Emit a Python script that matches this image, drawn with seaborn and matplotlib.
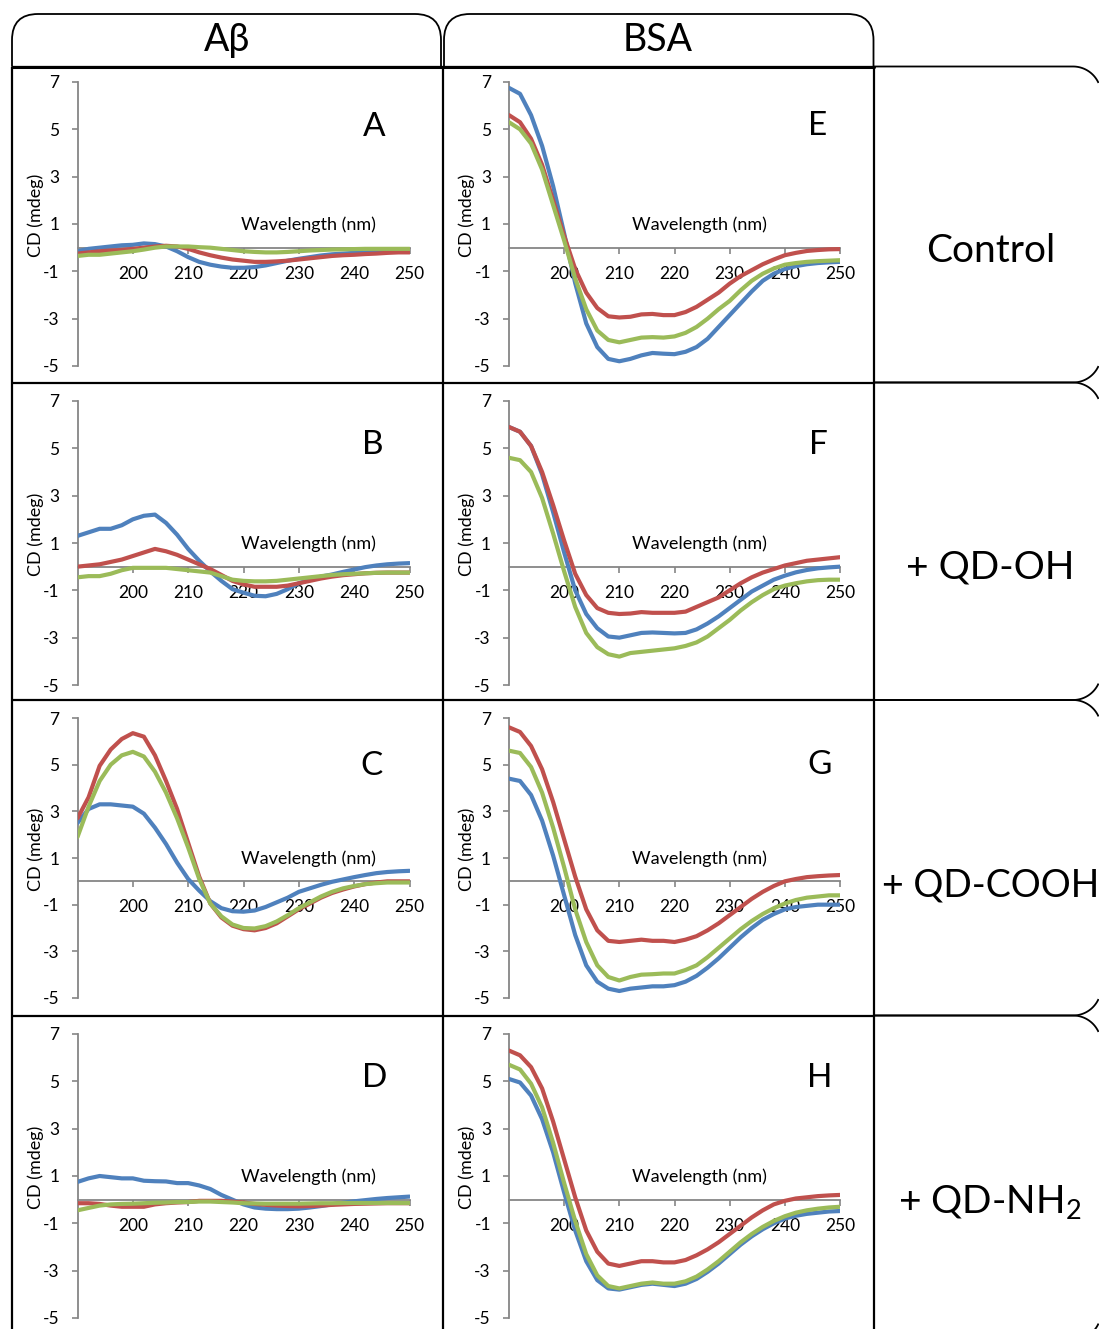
import numpy as np
import pandas as pd
import matplotlib
matplotlib.use("Agg")
import matplotlib.pyplot as plt
from matplotlib.path import Path
from matplotlib.patches import PathPatch
import seaborn as sns

# ---------------------------------------------------------------- data
wavelength = np.arange(190, 251, 2)  # nm

# A-beta: control, +QD-OH, +QD-COOH, +QD-NH2 (three traces each)
abeta_ctrl_1 = [-0.15, -0.05, 0.0, 0.05, 0.1, 0.12, 0.18, 0.15, 0.05, -0.15,
                -0.4, -0.6, -0.72, -0.8, -0.85, -0.85, -0.82, -0.75, -0.65, -0.55,
                -0.47, -0.4, -0.33, -0.28, -0.25, -0.22, -0.2, -0.18, -0.17, -0.16, -0.15]
abeta_ctrl_2 = [-0.25, -0.2, -0.15, -0.12, -0.1, -0.05, 0.0, 0.05, 0.08, 0.05,
                -0.05, -0.2, -0.32, -0.42, -0.5, -0.55, -0.6, -0.6, -0.58, -0.55,
                -0.5, -0.45, -0.4, -0.35, -0.32, -0.3, -0.27, -0.25, -0.22, -0.2, -0.2]
abeta_ctrl_3 = [-0.35, -0.3, -0.3, -0.25, -0.2, -0.15, -0.08, 0.0, 0.05, 0.05,
                0.05, 0.02, 0.0, -0.05, -0.1, -0.15, -0.18, -0.2, -0.2, -0.18,
                -0.15, -0.12, -0.1, -0.08, -0.07, -0.06, -0.05, -0.05, -0.05, -0.05, -0.05]

abeta_oh_1 = [1.3, 1.45, 1.6, 1.6, 1.75, 2.0, 2.15, 2.2, 1.85, 1.35,
              0.75, 0.25, -0.2, -0.6, -0.95, -1.1, -1.23, -1.25, -1.15, -0.95,
              -0.7, -0.55, -0.42, -0.33, -0.22, -0.12, -0.02, 0.05, 0.1, 0.13, 0.15]
abeta_oh_2 = [0.0, 0.05, 0.1, 0.2, 0.3, 0.45, 0.6, 0.75, 0.65, 0.5,
              0.3, 0.1, -0.1, -0.35, -0.6, -0.75, -0.85, -0.85, -0.85, -0.8,
              -0.7, -0.6, -0.5, -0.42, -0.36, -0.32, -0.28, -0.26, -0.25, -0.25, -0.25]
abeta_oh_3 = [-0.45, -0.4, -0.4, -0.3, -0.15, -0.05, -0.05, -0.05, -0.05, -0.1,
              -0.15, -0.2, -0.25, -0.4, -0.55, -0.6, -0.62, -0.62, -0.6, -0.55,
              -0.5, -0.45, -0.4, -0.35, -0.32, -0.3, -0.28, -0.26, -0.25, -0.25, -0.25]

abeta_cooh_1 = [2.5, 3.1, 3.3, 3.3, 3.25, 3.2, 2.9, 2.3, 1.6, 0.8,
                0.1, -0.4, -0.85, -1.15, -1.28, -1.3, -1.25, -1.1, -0.9, -0.7,
                -0.45, -0.3, -0.15, -0.02, 0.08, 0.18, 0.27, 0.35, 0.4, 0.43, 0.45]
abeta_cooh_2 = [2.7, 3.6, 4.95, 5.65, 6.1, 6.35, 6.2, 5.4, 4.3, 3.1,
                1.65, 0.2, -0.95, -1.55, -1.9, -2.05, -2.1, -2.0, -1.8, -1.5,
                -1.2, -0.95, -0.7, -0.5, -0.35, -0.22, -0.12, -0.05, 0.0, 0.0, 0.0]
abeta_cooh_3 = [1.9, 3.2, 4.3, 5.0, 5.4, 5.55, 5.35, 4.7, 3.8, 2.7,
                1.45, 0.1, -0.95, -1.5, -1.85, -2.0, -2.02, -1.92, -1.72, -1.45,
                -1.15, -0.9, -0.65, -0.45, -0.3, -0.2, -0.12, -0.08, -0.05, -0.05, -0.05]

abeta_nh2_1 = [0.75, 0.9, 1.0, 0.95, 0.9, 0.9, 0.8, 0.78, 0.77, 0.7,
               0.7, 0.6, 0.45, 0.2, 0.0, -0.2, -0.33, -0.38, -0.4, -0.4,
               -0.38, -0.33, -0.27, -0.2, -0.13, -0.07, -0.02, 0.03, 0.07, 0.1, 0.13]
abeta_nh2_2 = [-0.15, -0.15, -0.18, -0.25, -0.3, -0.3, -0.3, -0.2, -0.15, -0.12,
               -0.1, -0.05, -0.05, -0.05, -0.08, -0.12, -0.18, -0.22, -0.25, -0.27,
               -0.28, -0.27, -0.25, -0.22, -0.2, -0.18, -0.17, -0.16, -0.15, -0.15, -0.15]
abeta_nh2_3 = [-0.45, -0.35, -0.25, -0.2, -0.18, -0.17, -0.15, -0.13, -0.12, -0.1,
               -0.1, -0.08, -0.08, -0.1, -0.12, -0.15, -0.16, -0.17, -0.17, -0.17,
               -0.17, -0.16, -0.15, -0.15, -0.14, -0.14, -0.14, -0.14, -0.14, -0.14, -0.14]

# BSA: control, +QD-OH, +QD-COOH, +QD-NH2 (three traces each)
bsa_ctrl_1 = [6.75, 6.5, 5.6, 4.3, 2.6, 0.6, -1.5, -3.2, -4.2, -4.7,
              -4.8, -4.7, -4.55, -4.45, -4.48, -4.5, -4.4, -4.2, -3.85, -3.35,
              -2.85, -2.35, -1.85, -1.4, -1.1, -0.9, -0.78, -0.7, -0.65, -0.62, -0.6]
bsa_ctrl_2 = [5.6, 5.3, 4.6, 3.5, 2.0, 0.5, -0.9, -1.9, -2.55, -2.9,
              -2.95, -2.92, -2.82, -2.8, -2.85, -2.85, -2.72, -2.5, -2.2, -1.9,
              -1.52, -1.2, -0.95, -0.7, -0.5, -0.32, -0.22, -0.14, -0.1, -0.07, -0.06]
bsa_ctrl_3 = [5.3, 5.0, 4.4, 3.3, 1.8, 0.3, -1.3, -2.6, -3.5, -3.9,
              -4.0, -3.9, -3.8, -3.78, -3.8, -3.75, -3.6, -3.35, -3.0, -2.6,
              -2.25, -1.8, -1.4, -1.1, -0.88, -0.72, -0.65, -0.6, -0.57, -0.55, -0.53]

bsa_oh_1 = [5.9, 5.7, 5.1, 3.9, 2.3, 0.6, -1.0, -2.0, -2.6, -2.95,
            -3.0, -2.9, -2.8, -2.78, -2.8, -2.82, -2.8, -2.65, -2.4, -2.1,
            -1.75, -1.4, -1.05, -0.8, -0.55, -0.38, -0.24, -0.14, -0.07, -0.03, 0.0]
bsa_oh_2 = [5.9, 5.7, 5.1, 4.0, 2.6, 1.1, -0.3, -1.2, -1.75, -1.95,
            -2.0, -1.98, -1.92, -1.95, -1.95, -1.95, -1.9, -1.7, -1.5, -1.3,
            -1.0, -0.7, -0.45, -0.25, -0.1, 0.05, 0.15, 0.25, 0.3, 0.35, 0.4]
bsa_oh_3 = [4.6, 4.5, 4.0, 2.9, 1.4, -0.2, -1.7, -2.8, -3.4, -3.7,
            -3.8, -3.65, -3.6, -3.55, -3.5, -3.45, -3.35, -3.2, -2.95, -2.6,
            -2.25, -1.85, -1.5, -1.2, -0.95, -0.8, -0.7, -0.62, -0.57, -0.55, -0.55]

bsa_cooh_1 = [4.4, 4.3, 3.7, 2.6, 1.1, -0.6, -2.3, -3.6, -4.3, -4.6,
              -4.7, -4.6, -4.55, -4.5, -4.5, -4.45, -4.3, -4.05, -3.7, -3.3,
              -2.85, -2.4, -2.0, -1.65, -1.4, -1.2, -1.1, -1.05, -1.0, -1.0, -1.0]
bsa_cooh_2 = [6.6, 6.4, 5.8, 4.8, 3.4, 1.8, 0.2, -1.2, -2.1, -2.55,
              -2.6, -2.55, -2.5, -2.55, -2.55, -2.6, -2.5, -2.35, -2.1, -1.8,
              -1.45, -1.1, -0.75, -0.45, -0.2, 0.0, 0.1, 0.18, 0.22, 0.25, 0.27]
bsa_cooh_3 = [5.6, 5.5, 4.9, 3.8, 2.3, 0.6, -1.2, -2.6, -3.6, -4.1,
              -4.25, -4.1, -4.0, -3.98, -3.95, -3.95, -3.8, -3.6, -3.25, -2.85,
              -2.45, -2.05, -1.7, -1.4, -1.15, -0.95, -0.8, -0.7, -0.65, -0.6, -0.6]

bsa_nh2_1 = [5.1, 4.95, 4.4, 3.4, 2.0, 0.3, -1.3, -2.6, -3.4, -3.75,
             -3.8, -3.7, -3.6, -3.55, -3.6, -3.65, -3.55, -3.35, -3.05, -2.7,
             -2.3, -1.9, -1.55, -1.25, -1.0, -0.8, -0.68, -0.6, -0.55, -0.5, -0.48]
bsa_nh2_2 = [6.3, 6.1, 5.6, 4.7, 3.3, 1.7, 0.1, -1.3, -2.2, -2.7,
             -2.8, -2.7, -2.6, -2.6, -2.65, -2.65, -2.55, -2.35, -2.1, -1.8,
             -1.45, -1.1, -0.75, -0.45, -0.2, -0.05, 0.05, 0.1, 0.15, 0.18, 0.2]
bsa_nh2_3 = [5.7, 5.5, 4.9, 3.9, 2.4, 0.7, -0.9, -2.3, -3.2, -3.65,
             -3.75, -3.65, -3.55, -3.5, -3.55, -3.55, -3.45, -3.25, -2.95, -2.6,
             -2.2, -1.8, -1.45, -1.15, -0.9, -0.7, -0.55, -0.45, -0.38, -0.33, -0.3]

column_titles = ["A\u03b2", "BSA"]
row_titles = ["Control", "+ QD-OH", "+ QD-COOH", "+ QD-NH$_\\mathregular{2}$"]
panel_letters = [["A", "B", "C", "D"], ["E", "F", "G", "H"]]
x_ticks = [200, 210, 220, 230, 240, 250]
y_ticks = [-5, -3, -1, 1, 3, 5, 7]
trace_names = ["1", "2", "3"]
trace_colors = ["#4F81BD", "#C0504D", "#9BBB59"]

panel_data = [
    [(abeta_ctrl_1, abeta_ctrl_2, abeta_ctrl_3),
     (abeta_oh_1, abeta_oh_2, abeta_oh_3),
     (abeta_cooh_1, abeta_cooh_2, abeta_cooh_3),
     (abeta_nh2_1, abeta_nh2_2, abeta_nh2_3)],
    [(bsa_ctrl_1, bsa_ctrl_2, bsa_ctrl_3),
     (bsa_oh_1, bsa_oh_2, bsa_oh_3),
     (bsa_cooh_1, bsa_cooh_2, bsa_cooh_3),
     (bsa_nh2_1, bsa_nh2_2, bsa_nh2_3)],
]

# ---------------------------------------------------------------- style
sns.set_theme(style="white")
plt.rcParams["font.family"] = ["Lato", "Noto Sans", "DejaVu Sans"]
plt.rcParams["axes.unicode_minus"] = False
plt.rcParams["mathtext.default"] = "regular"

W, H = 1099, 1329
fig = plt.figure(figsize=(W / 100, H / 100), dpi=100)
fig.patch.set_facecolor("white")

# frame layer in pixel units (y downwards)
frame = fig.add_axes([0, 0, 1, 1], zorder=0)
frame.set_xlim(0, W)
frame.set_ylim(H, 0)
frame.axis("off")
frame.patch.set_alpha(0)

LINE = dict(color="black", lw=1.6, solid_capstyle="butt")
OUTLINE = dict(color="black", lw=1.3, solid_capstyle="butt")
M, L, C3 = Path.MOVETO, Path.LINETO, Path.CURVE3


def top_tab(x0, x1, ytop, ybot, r):
    verts = [(x0, ybot), (x0, ytop + r), (x0, ytop), (x0 + r, ytop),
             (x1 - r, ytop), (x1, ytop), (x1, ytop + r), (x1, ybot)]
    codes = [M, L, C3, C3, L, C3, C3, L]
    return PathPatch(Path(verts, codes), fill=False, edgecolor="black", lw=1.3)


def side_cell(x0, xc, ytop, ybot, r, x_edge):
    """Top and bottom edges of a row label cell; the rounded right corners
    run off the page at x_edge."""
    t_end = np.arcsin(min(1.0, (x_edge - xc) / r))
    t = np.linspace(0, t_end, 40)
    frame.plot(np.r_[x0, xc + r * np.sin(t)], np.r_[ytop, ytop + r - r * np.cos(t)], **OUTLINE)
    frame.plot(np.r_[x0, xc + r * np.sin(t)], np.r_[ybot, ybot - r + r * np.cos(t)], **OUTLINE)


col_edges = [12, 442.5, 873.5]
row_edges = [66.5, 382.5, 700, 1015.5, 1340]

frame.add_patch(top_tab(12, 441, 14, 66.5, 26))
frame.add_patch(top_tab(444, 873.5, 14, 66.5, 26))
for i in range(4):
    side_cell(873.5, 1073, row_edges[i], row_edges[i + 1], 28, 1098.5)

for x in col_edges:
    frame.plot([x, x], [row_edges[0], H], **LINE)
for y in row_edges[:4]:
    frame.plot([col_edges[0], col_edges[2]], [y, y], **LINE)
frame.plot([col_edges[0], col_edges[2]], [66.5, 66.5], color="black", lw=2.2)

# headers
for cx, title in zip([227, 658], column_titles):
    frame.text(cx, 51, title, ha="center", va="baseline", fontsize=27, color="black")
for (cx, base, fs), title in zip([(991, 262, 28), (990, 579, 28), (991, 896, 27),
                                  (990, 1213, 28)], row_titles):
    frame.text(cx, base, title, ha="center", va="baseline", fontsize=fs, color="black")

# ---------------------------------------------------------------- panels
col_px = [(77.5, 409.5), (509, 840)]
row_px = [(82, 366), (401, 685), (718, 998), (1034, 1318)]
letter_px = [[(374, 136), (373, 454), (371, 775), (375, 1087)],
             [(818, 135), (818, 454), (820, 774), (820, 1087)]]
title_x = [231.8, 224.6]
AXIS_GRAY = "#868686"

for c in range(2):
    for r in range(4):
        x0, x1 = col_px[c]
        y0, y1 = row_px[r]
        ax = fig.add_axes([x0 / W, 1 - y1 / H, (x1 - x0) / W, (y1 - y0) / H], zorder=1)
        ax.patch.set_alpha(0)

        traces = panel_data[c][r]
        df = pd.concat(
            [pd.DataFrame({"wavelength": wavelength, "cd": vals, "trace": name})
             for name, vals in zip(trace_names, traces)],
            ignore_index=True,
        )
        sns.lineplot(data=df, x="wavelength", y="cd", hue="trace",
                     palette=trace_colors, hue_order=trace_names,
                     estimator=None, sort=False, legend=False, ax=ax,
                     linewidth=3.0, solid_capstyle="round", solid_joinstyle="round")

        ax.set_xlim(190, 250)
        ax.set_ylim(-5, 7)
        ax.set_xticks(x_ticks)
        ax.set_yticks(y_ticks)
        ax.set_xticklabels([str(t) for t in x_ticks])
        ax.set_yticklabels([str(t) for t in y_ticks])
        for side in ("top", "right"):
            ax.spines[side].set_visible(False)
        ax.spines["bottom"].set_position(("data", 0))
        for side in ("left", "bottom"):
            ax.spines[side].set_color(AXIS_GRAY)
            ax.spines[side].set_linewidth(1.3)
            ax.spines[side].set_zorder(0.5)
        ax.tick_params(axis="both", which="major", direction="out", length=4,
                       width=1.2, color=AXIS_GRAY, labelsize=12.5,
                       labelcolor="black", pad=9, bottom=True, left=True)
        ax.set_xlabel("")
        ax.set_ylabel("CD (mdeg)", fontsize=13, color="black")
        ax.yaxis.set_label_coords(-0.102, 0.53)
        ax.text(title_x[c], 0.95, "Wavelength (nm)", ha="center", va="center",
                fontsize=13, color="black")
        lx, ly = letter_px[c][r]
        frame.text(lx, ly, panel_letters[c][r], ha="center", va="baseline",
                   fontsize=24, color="black")

fig.savefig("out.png", dpi=100, facecolor="white")
